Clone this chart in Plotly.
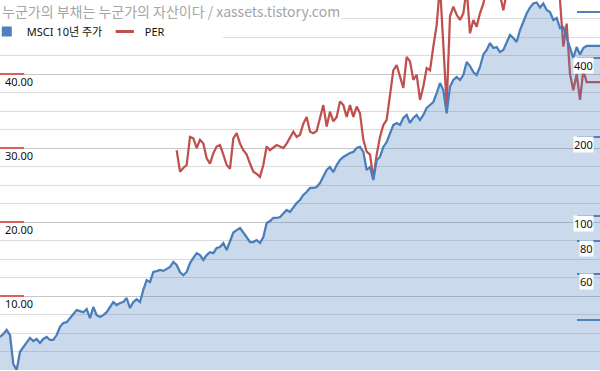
import math
import plotly.graph_objects as go

# ---------------- data ----------------
title_text = "누군가의 부채는 누군가의 자산이다 / xassets.tistory.com"
series_names = ["MSCI 10년 주가", "PER"]

msci = [34.6, 35.5, 36.8, 35.2, 27.3, 25.9, 30.4, 31.7, 33.1, 34.3,
        33.4, 34.0, 32.8, 34.0, 34.6, 33.7, 33.7, 35.2, 37.8, 39.1,
        39.4, 40.8, 42.6, 43.8, 43.4, 43.0, 44.2, 40.8, 45.0, 41.9,
        41.2, 41.9, 43.0, 45.0, 47.0, 45.8, 46.6, 47.0, 48.7, 44.6,
        47.0, 48.2, 47.0, 52.3, 57.0, 56.0, 61.2, 61.7, 62.3, 61.8,
        62.9, 64.0, 66.8, 65.1, 61.2, 59.5, 61.2, 66.2, 69.2, 72.2,
        71.0, 68.0, 71.0, 72.8, 72.2, 75.5, 76.2, 78.9, 74.2, 79.6,
        86.5, 88.4, 90.0, 86.5, 83.2, 79.6, 79.6, 81.0, 78.9, 83.2,
        94.1, 95.7, 98.3, 98.3, 99.1, 102.7, 105.4, 103.6, 108.2, 112.1,
        115.1, 120.3, 123.4, 127.9, 127.9, 129.0, 133.5, 140.8, 149.7, 153.7,
        147.1, 156.4, 163.5, 167.9, 170.9, 173.9, 175.5, 181.8, 183.4, 175.5,
        149.7, 153.7, 137.1, 163.5, 167.9, 183.4, 191.4, 207.1, 222.3, 226.2,
        222.3, 236.4, 242.8, 226.2, 236.4, 242.8, 232.2, 242.8, 258.0, 264.9,
        272.0, 294.1, 321.2, 302.0, 246.1, 310.8, 329.8, 338.6, 329.8, 344.6,
        386.3, 372.8, 353.7, 344.6, 369.7, 412.3, 429.1, 456.3, 436.7, 440.6,
        421.6, 429.1, 456.3, 489.8, 476.9, 460.3, 511.4, 548.6, 591.0, 622.8,
        645.7, 651.4, 622.8, 645.7, 609.6, 599.0, 558.4, 568.3, 520.5, 525.1,
        478.6, 440.6, 400.0, 440.6, 412.3, 436.7, 444.6, 444.6, 444.6, 444.6,
        444.6]

per_values = [29.7, 26.8, 27.3, 27.7, 31.5, 31.3, 30.0, 31.1, 30.6, 28.6,
              27.9, 29.3, 30.2, 30.4, 29.1, 27.7, 27.2, 31.3, 32.0, 30.6,
              29.7, 29.1, 27.9, 26.8, 26.5, 26.1, 27.7, 30.2, 29.7, 30.0,
              30.4, 30.2, 30.0, 30.6, 31.5, 32.2, 31.5, 31.8, 33.3, 34.2,
              32.2, 32.0, 32.3, 34.2, 35.8, 32.9, 34.9, 33.6, 34.2, 36.3,
              35.8, 34.2, 35.8, 34.2, 35.6, 34.7, 31.1, 29.5, 29.1, 25.9,
              29.1, 31.5, 33.1, 33.8, 36.9, 40.5, 41.2, 39.6, 38.1, 42.3,
              41.7, 39.2, 39.9, 36.5, 38.3, 40.8, 40.5, 43.7, 46.6, 52.0,
              44.0, 35.8, 47.8, 49.1, 48.0, 47.3, 48.2, 51.5, 45.5, 47.3,
              46.4, 48.2, 49.5, 52.0, 54.0, 55.0, 53.0, 51.0, 48.6, 51.0,
              54.0, 56.0, 57.0, 58.0, 59.0, 60.0, 61.0, 60.0, 61.0, 60.0,
              59.0, 58.0, 57.0, 55.0, 52.0, 50.0, 43.7, 46.8, 40.0, 37.8,
              40.0, 36.5, 40.5, 38.9, 38.9, 38.9, 38.9, 38.9]
per_start = 53  # first period with PER data

periods = list(range(len(msci)))
per = [None] * per_start + per_values

per_ticks = [0, 10, 20, 30, 40]
per_tick_labels = ["", "10.00", "20.00", "30.00", "40.00"]
msci_ticks = [40, 60, 80, 100, 200, 400, 600]
msci_label_vals = [60, 80, 100, 200, 400]

# ---------------- styles ----------------
BLUE = "#4A7EBB"
FILL = "rgba(79,129,189,0.30)"
RED = "#C0504D"
RED_TICK = "#D9625E"
FONT = "Noto Sans, Noto Sans CJK KR, sans-serif"

fig = go.Figure()

fig.add_trace(go.Scatter(
    x=periods, y=msci, yaxis="y2", mode="lines",
    line=dict(color=BLUE, width=2.25), fill="tozeroy", fillcolor=FILL,
    showlegend=False, hoverinfo="skip"))

fig.add_trace(go.Scatter(
    x=periods, y=per, yaxis="y", mode="lines",
    line=dict(color=RED, width=2.25), showlegend=False, hoverinfo="skip",
    connectgaps=False))

# legend entries
fig.add_trace(go.Scatter(
    x=[None], y=[None], mode="markers", name=series_names[0],
    marker=dict(symbol="square", size=10, color="#4F81BD")))
fig.add_trace(go.Scatter(
    x=[None], y=[None], mode="markers", name=series_names[1],
    marker=dict(symbol="line-ew", size=13, line=dict(color=RED, width=3))))

annotations = []
annotations.append(dict(
    text=title_text, xref="paper", yref="paper", x=0, y=1,
    xanchor="left", yanchor="top", showarrow=False, bgcolor="white",
    borderpad=1, yshift=1,
    font=dict(family="Noto Sans CJK KR, Noto Sans", size=14, color="#A5A5A5")))

for v, t in zip(per_ticks, per_tick_labels):
    if t:
        annotations.append(dict(
            text=t, xref="paper", yref="y", x=0, y=v, xanchor="left",
            yanchor="middle", xshift=3, yshift=-7, showarrow=False,
            font=dict(family=FONT, size=11, color="#111111")))

for v in msci_label_vals:
    annotations.append(dict(
        text=str(v), xref="paper", yref="y2", x=1, y=math.log10(v),
        xanchor="right", yanchor="middle", xshift=-6, yshift=-7,
        showarrow=False, bgcolor="white", borderpad=0,
        font=dict(family=FONT, size=11, color="#111111")))

fig.update_layout(
    width=600, height=371,
    margin=dict(l=0, r=0, t=0, b=1, autoexpand=False),
    paper_bgcolor="white", plot_bgcolor="white",
    showlegend=True,
    legend=dict(orientation="h", x=-0.022, y=1 - 17 / 370, xanchor="left",
                yanchor="top", bgcolor="white", borderwidth=0,
                font=dict(family=FONT, size=11, color="#111111"),
                entrywidth=73, entrywidthmode="pixels",
                tracegroupgap=0),
    xaxis=dict(range=[0, len(msci) - 1], visible=False),
    yaxis=dict(range=[0, 50], tickmode="array", tickvals=per_ticks,
               showticklabels=False, ticks="inside", ticklen=24,
               tickwidth=2, tickcolor=RED_TICK,
               showgrid=True, gridcolor="#C6C6C6", gridwidth=1,
               zeroline=False, showline=False,
               minor=dict(tickmode="linear", tick0=0, dtick=2.5,
                          showgrid=True, gridcolor="#DCDCDC", ticks="")),
    yaxis2=dict(type="log", overlaying="y", side="right",
                range=[1.4132, 2.8232], tickmode="array",
                tickvals=msci_ticks, showticklabels=False,
                ticks="inside", ticklen=23, tickwidth=2, tickcolor="#4F81BD",
                showgrid=False, zeroline=False, showline=False),
    annotations=annotations,
)

fig.write_html(
    "out.html",
    config={"displayModeBar": False},
    post_script="document.body.style.margin='0';document.body.style.overflow='hidden';",
)
